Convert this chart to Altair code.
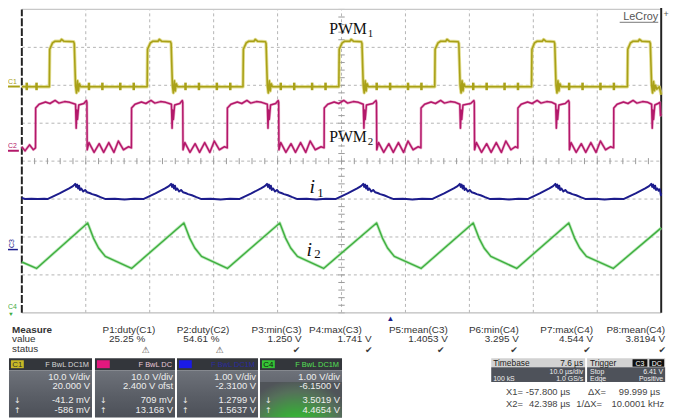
import altair as alt
import pandas as pd

# ---------------- data ----------------
# time in microseconds (10 us/div, 10 div), amplitude in screen divisions (-4..4)
pwm1_pts = [
    (0, 1.96),
    (4.30, 1.96), (4.36, 2.95), (4.8, 3.12), (5.2, 3.16), (6.0, 3.16), (6.2, 3.21), (6.6, 3.16), (8.1, 3.15),
    (8.2, 3.1), (8.4, 2.0), (8.55, 1.8), (8.7, 2.12), (8.85, 1.85), (9.0, 2.04), (9.2, 1.96),
    (19.60, 1.96), (19.66, 2.95), (20.1, 3.12), (20.5, 3.16), (21.3, 3.16), (21.5, 3.21), (21.9, 3.16), (23.25, 3.15),
    (23.35, 3.1), (23.55, 2.0), (23.7, 1.8), (23.85, 2.12), (24.0, 1.85), (24.15, 2.04), (24.35, 1.96),
    (34.59, 1.96), (34.65, 2.95), (35.1, 3.12), (35.5, 3.16), (36.3, 3.16), (36.5, 3.21), (36.9, 3.16), (38.1, 3.15),
    (38.2, 3.1), (38.4, 2.0), (38.55, 1.8), (38.7, 2.12), (38.85, 1.85), (39.0, 2.04), (39.2, 1.96),
    (49.58, 1.96), (49.64, 2.95), (50.1, 3.12), (50.5, 3.16), (51.3, 3.16), (51.5, 3.21), (51.9, 3.16), (53.1, 3.15),
    (53.2, 3.1), (53.4, 2.0), (53.55, 1.8), (53.7, 2.12), (53.85, 1.85), (54.0, 2.04), (54.2, 1.96),
    (64.58, 1.96), (64.64, 2.95), (65.1, 3.12), (65.5, 3.16), (66.3, 3.16), (66.5, 3.21), (66.9, 3.16), (68.25, 3.15),
    (68.35, 3.1), (68.55, 2.0), (68.7, 1.8), (68.85, 2.12), (69.0, 1.85), (69.15, 2.04), (69.35, 1.96),
    (79.72, 1.96), (79.78, 2.95), (80.2, 3.12), (80.6, 3.16), (81.4, 3.16), (81.6, 3.21), (82.0, 3.16), (83.25, 3.15),
    (83.35, 3.1), (83.55, 2.0), (83.7, 1.8), (83.85, 2.12), (84.0, 1.85), (84.15, 2.04), (84.35, 1.96),
    (94.71, 1.96), (94.77, 2.95), (95.2, 3.12), (95.6, 3.16), (96.4, 3.16), (96.6, 3.21), (97.0, 3.16), (98.2, 3.15),
    (98.3, 3.1), (98.5, 2.0), (98.65, 1.8), (98.8, 2.1), (98.95, 1.86), (99.1, 2.0), (99.3, 1.9), (99.7, 1.96), (100, 1.75),
]
pwm1_spikes = [0.77, 2.3, 10.5, 12.6, 15.4, 17.5, 25.6, 27.7, 30.5, 32.6, 40.5, 42.6, 45.4, 47.5,
               55.5, 57.6, 60.4, 62.5, 70.6, 72.7, 75.5, 77.6, 85.6, 87.7, 90.5, 92.6]

pwm2_pts = [
    (0, 0.38), (0.5, 0.27), (1.2, 0.43), (1.8, 0.30), (2.14, 0.35),
    (2.16, 1.40), (2.7, 1.50), (3.7, 1.56), (4.4, 1.52), (5.2, 1.60), (5.8, 1.53), (6.7, 1.57), (7.5, 1.55),
    (8.4, 1.50), (8.5, 0.87), (8.6, 1.35), (8.7, 1.1), (8.9, 1.48), (9.7, 1.52), (10.1, 1.6), (10.18, 1.55),
    (10.22, 0.30), (10.5, 0.49), (11.3, 0.23), (12.1, 0.46), (12.8, 0.23), (13.6, 0.49), (14.4, 0.23), (15.1, 0.53),
    (15.9, 0.30), (16.7, 0.38), (17.14, 0.35),
    (17.16, 1.40), (17.7, 1.50), (18.7, 1.56), (19.4, 1.52), (20.2, 1.60), (20.8, 1.53), (21.7, 1.57), (22.5, 1.55),
    (23.4, 1.50), (23.5, 0.87), (23.6, 1.35), (23.7, 1.1), (23.9, 1.48), (24.7, 1.52), (25.1, 1.6), (25.17, 1.55),
    (25.21, 0.30), (25.5, 0.49), (26.3, 0.23), (27.1, 0.46), (27.8, 0.23), (28.6, 0.49), (29.4, 0.23), (30.1, 0.53),
    (30.9, 0.30), (31.7, 0.38), (32.13, 0.35),
    (32.15, 1.40), (32.7, 1.50), (33.7, 1.56), (34.4, 1.52), (35.2, 1.60), (35.8, 1.53), (36.7, 1.57), (37.5, 1.55),
    (38.4, 1.50), (38.5, 0.87), (38.6, 1.35), (38.7, 1.1), (38.9, 1.48), (39.7, 1.52), (40.1, 1.6), (40.17, 1.55),
    (40.21, 0.30), (40.5, 0.49), (41.3, 0.23), (42.1, 0.46), (42.8, 0.23), (43.6, 0.49), (44.4, 0.23), (45.1, 0.53),
    (45.9, 0.30), (46.8, 0.38), (47.28, 0.35),
    (47.30, 1.40), (47.85, 1.50), (48.85, 1.56), (49.55, 1.52), (50.35, 1.60), (50.95, 1.53), (51.85, 1.57), (52.65, 1.55),
    (53.4, 1.50), (53.5, 0.87), (53.6, 1.35), (53.7, 1.1), (53.9, 1.48), (54.9, 1.52), (55.4, 1.6), (55.47, 1.55),
    (55.51, 0.30), (55.8, 0.49), (56.6, 0.23), (57.4, 0.46), (58.1, 0.23), (58.9, 0.49), (59.7, 0.23), (60.4, 0.53),
    (61.2, 0.30), (62.0, 0.38), (62.42, 0.35),
    (62.44, 1.40), (63.0, 1.50), (64.0, 1.56), (64.7, 1.52), (65.5, 1.60), (66.1, 1.53), (67.0, 1.57), (67.8, 1.55),
    (68.5, 1.50), (68.6, 0.87), (68.7, 1.35), (68.8, 1.1), (69.0, 1.48), (70.2, 1.52), (70.7, 1.6), (70.77, 1.55),
    (70.81, 0.30), (71.1, 0.49), (71.9, 0.23), (72.7, 0.46), (73.4, 0.23), (74.2, 0.49), (75.0, 0.23), (75.7, 0.53),
    (76.5, 0.30), (77.2, 0.38), (77.57, 0.35),
    (77.59, 1.40), (78.1, 1.50), (79.1, 1.56), (79.8, 1.52), (80.6, 1.60), (81.2, 1.53), (82.1, 1.57), (82.9, 1.55),
    (83.5, 1.50), (83.6, 0.87), (83.7, 1.35), (83.8, 1.1), (84.0, 1.48), (85.0, 1.52), (85.5, 1.6), (85.61, 1.55),
    (85.65, 0.30), (85.9, 0.49), (86.7, 0.23), (87.5, 0.46), (88.2, 0.23), (89.0, 0.49), (89.8, 0.23), (90.5, 0.53),
    (91.3, 0.30), (92.1, 0.38), (92.56, 0.35),
    (92.58, 1.40), (93.1, 1.50), (94.1, 1.56), (94.8, 1.52), (95.6, 1.60), (96.2, 1.53), (97.1, 1.57), (97.9, 1.55),
    (98.5, 1.50), (98.6, 0.87), (98.7, 1.35), (98.8, 1.1), (99.0, 1.48), (99.5, 1.52), (99.8, 1.55), (99.9, 1.2), (100, 1.25),
]

i1_pts = [
    (0, -0.97), (0.5, -1.0), (1.5, -0.99), (2.5, -1.0), (3.5, -0.99), (4.0, -1.0),
    (5.9, -0.85), (7.4, -0.72), (8.0, -0.66), (8.35, -0.60), (8.5, -0.68), (8.65, -0.62), (8.8, -0.72), (8.95, -0.65),
    (9.1, -0.76), (9.3, -0.72), (9.6, -0.80), (9.9, -0.76), (10.2, -0.82), (10.6, -0.84), (11.0, -0.87), (11.6, -0.90),
    (12.3, -0.95), (13.1, -1.0), (14.55, -0.99), (16.05, -1.01), (17.55, -0.99), (19.0, -1.0),
    (20.9, -0.85), (22.4, -0.72), (23.0, -0.66), (23.35, -0.60), (23.5, -0.68), (23.65, -0.62), (23.8, -0.72), (23.95, -0.65),
    (24.1, -0.76), (24.3, -0.72), (24.6, -0.80), (24.9, -0.76), (25.2, -0.82), (25.6, -0.84), (26.0, -0.87), (26.6, -0.90),
    (27.3, -0.95), (28.1, -1.0), (29.55, -0.99), (31.05, -1.01), (32.55, -0.99), (34.0, -1.0),
    (35.9, -0.85), (37.4, -0.72), (38.0, -0.66), (38.35, -0.60), (38.5, -0.68), (38.65, -0.62), (38.8, -0.72), (38.95, -0.65),
    (39.1, -0.76), (39.3, -0.72), (39.6, -0.80), (39.9, -0.76), (40.2, -0.82), (40.6, -0.84), (41.0, -0.87), (41.6, -0.90),
    (42.3, -0.95), (43.1, -1.0), (44.55, -0.99), (46.05, -1.01), (47.55, -0.99), (49.05, -1.0),
    (50.95, -0.85), (52.45, -0.72), (53.05, -0.66), (53.4, -0.60), (53.55, -0.68), (53.7, -0.62), (53.85, -0.72), (54.0, -0.65),
    (54.15, -0.76), (54.35, -0.72), (54.65, -0.80), (54.95, -0.76), (55.25, -0.82), (55.65, -0.84), (56.05, -0.87), (56.65, -0.90),
    (57.35, -0.95), (58.15, -1.0), (59.6, -0.99), (61.1, -1.01), (62.6, -0.99), (64.15, -1.0),
    (66.05, -0.85), (67.55, -0.72), (68.15, -0.66), (68.5, -0.60), (68.65, -0.68), (68.8, -0.62), (68.95, -0.72), (69.1, -0.65),
    (69.25, -0.76), (69.45, -0.72), (69.75, -0.80), (70.05, -0.76), (70.35, -0.82), (70.75, -0.84), (71.15, -0.87), (71.75, -0.90),
    (72.45, -0.95), (73.25, -1.0), (74.7, -0.99), (76.2, -1.01), (77.7, -0.99), (79.1, -1.0),
    (81.0, -0.85), (82.5, -0.72), (83.1, -0.66), (83.45, -0.60), (83.6, -0.68), (83.75, -0.62), (83.9, -0.72), (84.05, -0.65),
    (84.2, -0.76), (84.4, -0.72), (84.7, -0.80), (85.0, -0.76), (85.3, -0.82), (85.7, -0.84), (86.1, -0.87), (86.7, -0.90),
    (87.4, -0.95), (88.2, -1.0), (89.65, -0.99), (91.15, -1.01), (92.65, -0.99), (94.1, -1.0),
    (96.0, -0.85), (97.5, -0.72), (98.1, -0.66), (98.45, -0.60), (98.6, -0.68), (98.75, -0.62), (98.9, -0.72), (99.05, -0.65),
    (99.2, -0.76), (99.4, -0.72), (99.6, -0.78), (99.8, -0.74), (99.95, -0.9), (100, -0.85),
]

i2_pts = [
    (0, -2.66), (2.3, -2.83), (10.3, -1.63), (11.2, -2.03), (12.0, -2.29), (13.05, -2.51),
    (17.16, -2.83), (25.35, -1.63), (26.25, -2.03), (27.05, -2.29), (28.1, -2.51),
    (32.15, -2.83), (40.35, -1.63), (41.25, -2.03), (42.05, -2.29), (43.1, -2.51),
    (47.2, -2.83), (55.49, -1.63), (56.4, -2.03), (57.2, -2.29), (58.25, -2.51),
    (62.44, -2.83), (70.6, -1.63), (71.5, -2.03), (72.3, -2.29), (73.35, -2.51),
    (77.4, -2.83), (85.55, -1.63), (86.45, -2.03), (87.25, -2.29), (88.3, -2.51),
    (92.5, -2.83), (100, -1.76),
]

grid_t = [10, 20, 30, 40, 50, 60, 70, 80, 90]
grid_v = [-3, -2, -1, 0, 1, 2, 3]
minor_t = [t / 10 for t in range(0, 1001, 20)]
minor_v = [v / 10 for v in range(-40, 41, 2)]

measure_names = ["P1:duty(C1)", "P2:duty(C2)", "P3:min(C3)", "P4:max(C3)",
                 "P5:mean(C3)", "P6:min(C4)", "P7:max(C4)", "P8:mean(C4)"]
measure_values = ["25.25 %", "54.61 %", "1.250 V", "1.741 V",
                  "1.4053 V", "3.295 V", "4.544 V", "3.8194 V"]
measure_status = ["⚠", "⚠", "✔", "✔", "✔", "✔", "✔", "✔"]

ch_names = ["C1", "C2", "C3", "C4"]
ch_scale = ["10.0 V/div", "10.0 V/div", "1.00 V/div", "1.00 V/div"]
ch_offset = ["20.000 V", "2.400 V ofst", "-2.3100 V", "-6.1500 V"]
ch_low = ["-41.2 mV", "709 mV", "1.2799 V", "3.5019 V"]
ch_high = ["-586 mV", "13.168 V", "1.5637 V", "4.4654 V"]

# ---------------- layout / style ----------------
X = alt.Scale(domain=[0, 100], range=[14, 661], nice=False, zero=False)
Y = alt.Scale(domain=[-4, 4], range=[306, -1], nice=False, zero=False)
one = pd.DataFrame({"k": [0]})
SANS = "Liberation Sans"
SERIF = "Liberation Serif"


def P(v):  # page pixel -> chart pixel
    return v - 8


def trace(pts, color, width, opacity=1.0):
    df = pd.DataFrame(pts, columns=["t", "v"])
    df["i"] = range(len(df))
    return alt.Chart(df).mark_line(color=color, strokeWidth=width, strokeJoin="round",
                                   opacity=opacity).encode(
        x=alt.X("t:Q", scale=X, axis=None),
        y=alt.Y("v:Q", scale=Y, axis=None),
        order="i:Q")


def vrules(ts, lo, hi, **kw):
    df = pd.DataFrame({"t": ts, "lo": lo, "hi": hi})
    return alt.Chart(df).mark_rule(**kw).encode(
        x=alt.X("t:Q", scale=X, axis=None),
        y=alt.Y("lo:Q", scale=Y, axis=None), y2="hi:Q")


def hrules(vs, lo, hi, **kw):
    df = pd.DataFrame({"v": vs, "lo": lo, "hi": hi})
    return alt.Chart(df).mark_rule(**kw).encode(
        y=alt.Y("v:Q", scale=Y, axis=None),
        x=alt.X("lo:Q", scale=X, axis=None), x2="hi:Q")


def txt(s, x, y, size=10, color="#333333", align="left", weight="normal",
        font=SANS, style="normal", angle=None, baseline="alphabetic"):
    kw = dict(text=s, align=align, baseline=baseline, fontSize=size, color=color,
              font=font, fontWeight=weight, fontStyle=style)
    if angle is not None:
        kw["angle"] = angle
    return alt.Chart(one).mark_text(**kw).encode(x=alt.value(P(x)), y=alt.value(P(y)))


def rect(x1, y1, x2, y2, fill, stroke=None, sw=1, **kw):
    mk = dict(fill=fill, **kw)
    if stroke:
        mk["stroke"] = stroke
        mk["strokeWidth"] = sw
    return alt.Chart(one).mark_rect(**mk).encode(
        x=alt.value(P(x1)), x2=alt.value(P(x2)), y=alt.value(P(y1)), y2=alt.value(P(y2)))


def hline(x1, x2, y, color, w=1):
    return alt.Chart(one).mark_rule(color=color, strokeWidth=w).encode(
        x=alt.value(P(x1)), x2=alt.value(P(x2)), y=alt.value(P(y)))


layers = []

# grid
GRID = "#b4b4b4"
layers.append(vrules(grid_t, -4, 4, color=GRID, strokeWidth=1, strokeDash=[3, 3]))
layers.append(hrules(grid_v, 0, 100, color=GRID, strokeWidth=1, strokeDash=[3, 3]))
layers.append(vrules(minor_t, -0.08, 0.08, color="#9a9a9a", strokeWidth=1))
layers.append(hrules(minor_v, 49.5, 50.5, color="#9a9a9a", strokeWidth=1))
layers.append(hrules([4], 0, 100, color="#c8c8c8", strokeWidth=1.2))
layers.append(hrules([-4], 0, 100, color="#bdbdbd", strokeWidth=1.2))
layers.append(vrules([0], -4, 4, color="#222222", strokeWidth=2, strokeDash=[8, 2]))
layers.append(vrules([100], -4, 4.1, color="#222222", strokeWidth=2))

# traces
sp = pd.DataFrame({"t": pwm1_spikes, "lo": 1.87, "hi": 2.07})
layers.append(trace(pwm1_pts, "#dcd67a", 3.4, 0.8))
layers.append(trace(pwm1_pts, "#a9a118", 1.6))
layers.append(alt.Chart(sp).mark_rule(color="#a9a118", strokeWidth=2.6).encode(
    x=alt.X("t:Q", scale=X, axis=None), y=alt.Y("lo:Q", scale=Y, axis=None), y2="hi:Q"))
layers.append(trace(pwm2_pts, "#e07aaa", 2.8, 0.6))
layers.append(trace(pwm2_pts, "#b3186a", 1.5))
layers.append(trace(i1_pts, "#1c1c8c", 2.0))
layers.append(trace(i2_pts, "#9ee09e", 3.0, 0.7))
layers.append(trace(i2_pts, "#3fae3f", 1.4))

# labels on the screen
layers.append(txt("PWM", 333, 32, size=16, color="#111", font=SERIF))
layers.append(txt("1", 372, 35, size=11, color="#111", font=SERIF))
layers.append(txt("PWM", 333, 141, size=16, color="#111", font=SERIF))
layers.append(txt("2", 372, 144, size=11, color="#111", font=SERIF))
layers.append(txt("i", 313, 193, size=20, color="#111", font=SERIF, style="italic"))
layers.append(txt("1", 321, 197, size=13, color="#111", font=SERIF))
layers.append(txt("i", 310, 256, size=20, color="#111", font=SERIF, style="italic"))
layers.append(txt("2", 318, 259, size=13, color="#111", font=SERIF))

# channel ground markers
layers.append(txt("C1", 8, 82, size=7, color="#a9a118"))
layers.append(hline(8, 20, 85, "#a9a118", 2))
layers.append(txt("C2", 8, 147, size=7, color="#b3186a"))
layers.append(hline(8, 19, 150, "#b3186a", 2))
layers.append(txt("C3", 14, 244, size=7, color="#1c1c8c", angle=270, align="center"))
layers.append(hline(8, 18, 250, "#1c1c8c", 1.5))
layers.append(txt("C4", 8, 310, size=7, color="#3fae3f"))
layers.append(txt("▼", 11, 317, size=6, color="#3fae3f", align="center"))

# LeCroy logo and trigger markers
layers.append(txt("LeCroy", 666, 18, size=11, color="#555555", align="right"))
layers.append(hline(627, 666, 20, "#777777", 1))
layers.append(txt("+", 674, 15, size=9, color="#555555", align="center"))
layers.append(txt("▲", 395, 322, size=8, color="#1c1c8c", align="center"))

# measurement table
layers.append(txt("Measure", 12, 334, size=10, weight="bold", color="#333"))
layers.append(txt("value", 12, 344, size=10, color="#333"))
layers.append(txt("status", 12, 354, size=10, color="#333"))
head_x = [157, 232, 305, 366, 453, 525, 600, 673]
val_x = [147, 222, 305, 376, 453, 525, 600, 673]
stat_x = [147, 222, 300, 373, 446, 520, 594, 670]
for name, val, st, hx, vx, sx in zip(measure_names, measure_values, measure_status, head_x, val_x, stat_x):
    layers.append(txt(name, hx, 334, size=10, color="#333", align="right"))
    layers.append(txt(val, vx, 344, size=10, color="#333", align="right"))
    layers.append(txt(st, sx, 355, size=9, color="#3a3a3a", align="center", font="DejaVu Sans"))

# channel boxes
box_x = [(9, 93), (96, 177), (179, 261), (263, 346)]
chip_col = ["#c8b826", "#e3187e", "#1a1ae6", "#35c435"]
chip_txt = ["#333", "#e3187e", "#1a1ae6", "#111"]
flag_col = ["#d8d8d8", "#e8c8d8", "#2a2aa0", "#55e055"]
body_grad = alt.LinearGradient(gradient="linear", x1=0, y1=0, x2=0, y2=1,
                               stops=[alt.GradientStop(color="#6e727a", offset=0),
                                      alt.GradientStop(color="#5a5e66", offset=0.55),
                                      alt.GradientStop(color="#4c5058", offset=1)])
green_glow = alt.RadialGradient(gradient="radial", x1=0.45, y1=1.0, r1=0, x2=0.45, y2=1.0, r2=0.75,
                                stops=[alt.GradientStop(color="#2ef02e", offset=0),
                                       alt.GradientStop(color="#3aa83a", offset=0.45),
                                       alt.GradientStop(color="#55705a", offset=0.8),
                                       alt.GradientStop(color="#505459", offset=1)])
for k, (x1, x2) in enumerate(box_x):
    layers.append(rect(x1, 360, x2, 372, "#33363b"))
    layers.append(rect(x1, 372, x2, 420, body_grad))
    if k == 3:
        layers.append(rect(x1, 384, x2, 420, green_glow))
    layers.append(rect(x1 + 2, 362, x1 + 15, 370, chip_col[k]))
    if k in (0, 3):
        layers.append(txt(ch_names[k], x1 + 8.5, 369, size=8, color=chip_txt[k], align="center"))
    flags = "F  BwL  DC1M" if k != 1 else "F  BwL  DC"
    layers.append(txt(flags, x2 - 3, 369, size=7.5, color=flag_col[k], align="right"))
    layers.append(txt(ch_scale[k], x2 - 2, 382, size=9.5, color="#eeeeee", align="right"))
    layers.append(txt(ch_offset[k], x2 - 2, 391.5, size=9.5, color="#eeeeee", align="right"))
    layers.append(txt(ch_low[k], x2 - 2, 405, size=9.5, color="#eeeeee", align="right"))
    layers.append(txt(ch_high[k], x2 - 2, 415, size=9.5, color="#eeeeee", align="right"))
    layers.append(txt("↓", x1 + 5, 405, size=8, color="#eeeeee", font="DejaVu Sans"))
    layers.append(txt("↑", x1 + 5, 415, size=8, color="#eeeeee", font="DejaVu Sans"))

# timebase box
layers.append(rect(497, 360, 592, 369, "#d2d2d2"))
layers.append(rect(497, 369, 592, 384, "#4e525a"))
layers.append(txt("Timebase", 499, 367.5, size=8.5, color="#222"))
layers.append(txt("7.6 µs", 590, 367.5, size=8.5, color="#222", align="right"))
layers.append(txt("10.0 µs/div", 590, 375.5, size=7, color="#eeeeee", align="right"))
layers.append(txt("100 kS", 499, 382.8, size=7, color="#eeeeee"))
layers.append(txt("1.0 GS/s", 590, 382.8, size=7, color="#eeeeee", align="right"))
# trigger box
layers.append(rect(594, 360, 673, 369, "#d2d2d2"))
layers.append(rect(594, 369, 673, 384, "#4e525a"))
layers.append(txt("Trigger", 597, 367.5, size=8.5, color="#222"))
layers.append(rect(640, 361, 655, 368.5, "#111111"))
layers.append(rect(657, 361, 672, 368.5, "#111111"))
layers.append(txt("C3", 647.5, 367.5, size=7, color="#ffffff", align="center"))
layers.append(txt("DC", 664.5, 367.5, size=7, color="#ffffff", align="center"))
layers.append(txt("Stop", 597, 375.5, size=7, color="#eeeeee"))
layers.append(txt("6.41 V", 671, 375.5, size=7, color="#eeeeee", align="right"))
layers.append(txt("Edge", 597, 382.8, size=7, color="#eeeeee"))
layers.append(txt("Positive", 671, 382.8, size=7, color="#eeeeee", align="right"))
# cursor readouts
layers.append(txt("X1=", 512, 397, size=9.5, color="#444"))
layers.append(txt("-57.800 µs", 577, 397, size=9.5, color="#444", align="right"))
layers.append(txt("ΔX=", 595, 397, size=9.5, color="#444"))
layers.append(txt("99.999 µs", 668, 397, size=9.5, color="#444", align="right"))
layers.append(txt("X2=", 512, 409, size=9.5, color="#444"))
layers.append(txt("42.398 µs", 577, 409, size=9.5, color="#444", align="right"))
layers.append(txt("1/ΔX=", 583, 409, size=9.5, color="#444"))
layers.append(txt("10.0001 kHz", 672, 409, size=9.5, color="#444", align="right"))

chart = alt.layer(*layers).properties(
    width=678, height=412,
    autosize=alt.AutoSizeParams(type="none"),
    padding=0, background="white",
).configure_view(stroke=None)

chart.save("out.html", embed_options={"renderer": "svg", "actions": False})
